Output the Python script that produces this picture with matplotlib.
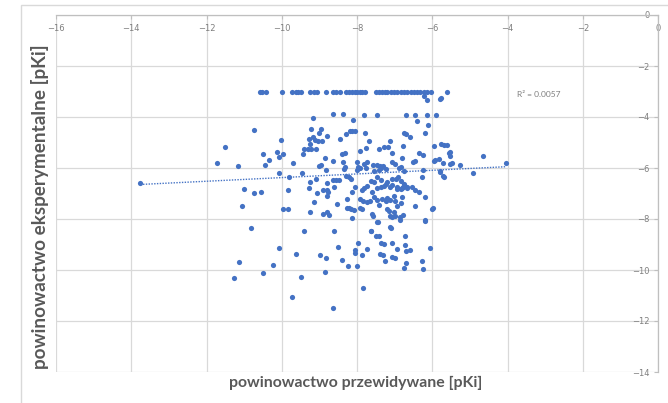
import numpy as np
import matplotlib
matplotlib.use("Agg")
import matplotlib.pyplot as plt
from matplotlib.patches import Rectangle

# predicted vs experimental affinity (pKi)
pred = [
    -10.57, -10.52, -10.41, -9.99, -9.72, -9.62, -9.56, -9.48, -9.25, -9.14, -9.06,
    -8.82, -8.64, -8.56, -8.46, -8.29, -8.21, -8.13, -8.05, -8.00, -7.92, -7.87,
    -7.79, -7.50, -7.42, -7.34, -7.26, -7.21, -7.10, -7.02, -6.94, -6.83, -6.75,
    -6.68, -6.57, -6.49, -6.41, -6.33, -6.23, -6.15, -6.04, -5.62,
    -13.76, -10.75, -11.52, -11.72, -11.15, -10.51, -10.33, -10.45, -11.01, -10.73,
    -10.56, -11.05, -10.81, -10.02, -10.12, -10.07, -9.98, -10.08, -9.81, -9.69,
    -9.43, -9.45, -9.98, -9.83, -9.84, -9.40, -8.60, -9.16, -8.65, -8.38, -9.22,
    -8.95, -9.01, -8.80, -9.27, -9.18, -9.11, -9.04, -8.92, -9.25, -9.40, -9.30,
    -9.21, -9.09, -8.44, -8.30, -8.85, -8.64, -8.39, -8.96, -9.01, -8.83, -8.34,
    -9.09, -9.25, -9.27, -9.05, -8.90, -8.79, -8.77, -8.80, -8.61, -8.63, -8.48,
    -9.14, -8.52, -8.90, -8.79, -8.74, -9.24, -8.26, -8.26,
    -10.08, -11.13, -11.28, -10.51, -10.23, -9.62, -9.49, -9.74, -8.98, -8.83,
    -8.84, -8.50, -8.41, -8.23, -8.00, -8.65, -7.85, -8.05, -8.05, -7.97, -7.87,
    -7.74, -7.63, -7.45, -7.50, -7.42, -7.35, -7.29, -7.10, -7.39, -7.32, -7.26,
    -7.06, -6.94, -7.08, -6.99, -6.86, -6.72, -6.73, -6.71, -6.60, -6.71, -6.74,
    -6.27, -6.25, -6.05, -6.18,
    -6.23, -6.14, -5.80, -5.77, -7.81, -7.48, -6.71, -6.47, -6.14, -5.90, -8.11,
    -6.40, -6.11, -8.19, -8.12, -8.06, -7.79, -6.75, -6.69, -6.60, -6.18, -7.67,
    -7.13, -7.18, -7.28, -7.42, -7.06, -6.77, -6.36, -6.25, -5.96, -5.78, -5.68,
    -5.54, -7.93, -7.77, -8.33, -8.36, -8.33, -7.99, -7.97, -7.93, -7.99, -7.81,
    -7.73, -7.77, -7.57, -7.48, -7.39, -7.30, -7.55, -7.42, -7.36, -7.24, -7.06,
    -7.00, -6.89, -6.80, -6.51, -6.47, -6.83, -6.75, -6.25, -5.96, -5.81, -5.71,
    -5.80, -5.71, -5.54, -5.48, -8.56, -8.28, -8.21, -8.15, -8.81, -8.04, -7.81,
    -7.64, -7.55, -7.46, -7.37, -7.24, -7.20, -7.13, -7.06, -6.97, -6.91, -6.84,
    -6.75, -6.67, -6.80, -6.93, -6.27,
    -4.05, -4.64, -4.93, -5.25, -5.61, -5.56, -5.52, -5.70, -5.80, -5.93,
    -7.86, -7.74, -8.12, -7.92, -7.83, -7.74, -7.66, -7.59, -7.46, -7.37, -7.28,
    -7.06, -6.93, -6.84, -6.77, -6.68, -6.53, -6.45, -6.36, -6.18, -6.45, -6.00,
    -5.98, -6.18, -7.55, -7.46, -7.33, -7.24, -7.20, -7.11, -7.02, -6.98, -6.84,
    -6.80, -7.42, -7.21, -7.15, -6.95, -8.21, -8.15, -8.08, -7.92, -7.86, -8.12,
    -7.57, -7.59, -7.46, -7.13, -7.08, -7.02, -6.98, -6.86, -6.78, -7.11, -7.64,
]
exper = [
    -3.0, -3.0, -3.0, -3.0, -3.0, -3.0, -3.0, -3.0, -3.0, -3.0, -3.0,
    -3.0, -3.0, -3.0, -3.0, -3.0, -3.0, -3.0, -3.0, -3.0, -3.0, -3.0,
    -3.0, -3.0, -3.0, -3.0, -3.0, -3.0, -3.0, -3.0, -3.0, -3.0, -3.0,
    -3.0, -3.0, -3.0, -3.0, -3.0, -3.0, -3.0, -3.0, -3.0,
    -6.60, -4.50, -5.17, -5.81, -5.94, -5.45, -5.70, -5.90, -6.83, -6.97,
    -6.95, -7.49, -8.35, -4.89, -5.39, -5.55, -5.47, -6.20, -6.35, -5.81,
    -5.44, -6.19, -7.61, -7.61, -6.85, -8.48, -8.48, -4.02, -3.90, -3.88, -4.46,
    -4.46, -4.61, -4.76, -4.85, -4.78, -4.90, -4.96, -4.96, -5.05, -5.24, -5.24,
    -5.24, -5.24, -4.85, -4.65, -5.60, -5.74, -5.44, -5.88, -5.94, -6.07, -6.03,
    -6.43, -6.53, -6.80, -6.97, -6.86, -6.86, -6.95, -7.09, -6.73, -6.47, -6.49,
    -7.32, -7.43, -7.81, -7.74, -7.83, -7.72, -7.22, -7.57,
    -9.15, -9.69, -10.30, -10.11, -9.79, -9.37, -10.26, -11.04, -9.41, -9.52,
    -10.08, -9.10, -9.61, -9.85, -9.83, -11.50, -10.71, -9.21, -9.32, -8.95, -9.41,
    -9.19, -8.49, -8.12, -8.65, -8.65, -8.96, -8.99, -8.35, -9.37, -9.41, -9.66,
    -8.95, -9.19, -9.48, -9.54, -8.03, -8.65, -9.02, -9.27, -9.21, -9.73, -9.91,
    -9.66, -9.98, -9.15, -8.06,
    -3.19, -3.35, -3.29, -3.25, -3.92, -3.92, -3.92, -3.92, -3.92, -3.92, -4.10,
    -4.17, -4.30, -4.56, -4.53, -4.55, -4.64, -4.63, -4.67, -4.80, -4.64, -4.96,
    -4.96, -5.19, -5.19, -5.26, -5.43, -5.15, -5.43, -5.48, -5.15, -5.06, -5.09,
    -5.39, -5.32, -5.23, -5.43, -5.78, -5.98, -5.78, -5.95, -6.01, -6.08, -5.85,
    -5.76, -6.01, -5.89, -5.88, -5.91, -5.91, -6.11, -6.08, -6.01, -6.05, -5.78,
    -5.85, -6.01, -5.61, -5.78, -5.72, -5.95, -6.11, -6.08, -5.72, -5.65, -5.82,
    -6.11, -6.31, -5.85, -5.82, -6.48, -6.31, -6.37, -6.44, -6.57, -6.74, -6.79,
    -6.51, -6.55, -6.37, -6.48, -6.64, -6.53, -6.74, -6.44, -6.44, -6.37, -6.51,
    -6.64, -6.74, -6.77, -6.83, -6.37,
    -5.80, -5.53, -6.19, -5.90, -5.11, -5.40, -5.53, -6.36, -6.16, -5.67,
    -6.86, -6.69, -6.95, -7.22, -7.31, -7.35, -7.28, -6.95, -6.78, -6.73, -6.69,
    -6.65, -6.73, -6.82, -6.73, -6.78, -6.73, -6.86, -6.95, -7.15, -7.48, -7.61,
    -7.57, -8.03, -7.12, -7.26, -7.22, -7.28, -7.18, -7.26, -7.09, -7.28, -7.39,
    -7.15, -7.44, -7.61, -7.68, -7.48, -7.57, -7.61, -7.65, -7.57, -7.61, -7.97,
    -7.87, -7.81, -8.11, -7.90, -7.94, -7.74, -7.87, -7.94, -7.84, -8.33, -8.49,
]
r2_text = "R² = 0.0057"
x_ticks = [-16, -14, -12, -10, -8, -6, -4, -2, 0]
y_ticks = [0, -2, -4, -6, -8, -10, -12, -14]

blue = "#4472C4"
grid_c = "#d9d9d9"
text_c = "#595959"

fig = plt.figure(figsize=(6.68, 4.03), dpi=100)
fig.patch.set_facecolor("white")

# outer chart frame (Excel style)
fig.patches.append(Rectangle((21 / 668, -0.05), 1.1, 1 - 5 / 403 + 0.05,
                             transform=fig.transFigure, fill=False,
                             edgecolor=grid_c, linewidth=1.0))

ax = fig.add_axes([56 / 668, 1 - 372 / 403, (658 - 56) / 668, (372 - 15) / 403])
ax.set_xlim(-16, 0)
ax.set_ylim(-14, 0)
ax.set_xticks(x_ticks)
ax.set_yticks(y_ticks)
ax.grid(True, color=grid_c, linewidth=0.9)
ax.set_axisbelow(True)

for s in ["left", "bottom"]:
    ax.spines[s].set_visible(False)
for s in ["top", "right"]:
    ax.spines[s].set_color("#bfbfbf")
    ax.spines[s].set_linewidth(0.9)

ax.xaxis.tick_top()
ax.yaxis.tick_right()
ax.tick_params(axis="x", length=3, pad=-13, labelsize=6, labelcolor="#7f7f7f",
               color="#bfbfbf", direction="in")
ax.tick_params(axis="y", length=3, pad=-6, labelsize=6, labelcolor="#7f7f7f",
               color="#bfbfbf", direction="in")
for t in ax.get_yticklabels():
    t.set_horizontalalignment("right")

ax.scatter(pred, exper, s=14, color=blue, zorder=3, linewidths=0)

# linear trendline
xs = np.array(pred)
ys = np.array(exper)
k, b = np.polyfit(xs, ys, 1)
xl = np.array([xs.min(), xs.max()])
ax.plot(xl, k * xl + b, color=blue, linestyle=(0, (1, 1)), linewidth=1.0, zorder=2)

ax.text(-3.74, -3.1, r2_text, fontsize=6, color="#7f7f7f", va="center",
        family="Lato")

fig.text(356 / 668, 1 - 383 / 403, "powinowactwo przewidywane [pKi]",
         ha="center", va="center", fontsize=11.4, fontweight="bold",
         color=text_c, family="Lato")
fig.text(40 / 668, 1 - 207 / 403, "powinowactwo eksperymentalne [pKi]",
         ha="center", va="center", rotation=90, fontsize=13.6,
         fontweight="bold", color=text_c, family="Lato")

fig.savefig("out.png", dpi=100)
